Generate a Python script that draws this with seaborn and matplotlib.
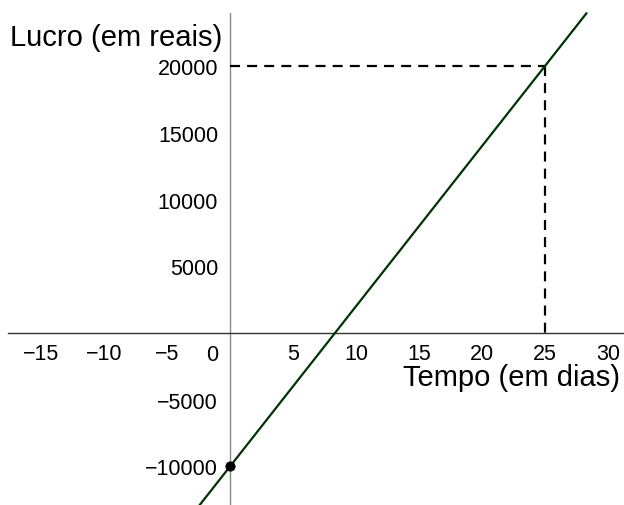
import matplotlib
matplotlib.use("Agg")
import matplotlib.pyplot as plt
import matplotlib.transforms as mtransforms
import seaborn as sns
import pandas as pd
from matplotlib.ticker import FixedLocator, FixedFormatter

# data
line_x = [-2.5, 0, 25, 28.3]
line_y = [-13000, -10000, 20000, 23960]
point_x = [0]
point_y = [-10000]
target_x = 25
target_y = 20000
x_ticks = [-15, -10, -5, 5, 10, 15, 20, 25, 30]
x_tick_labels = ["\u221215", "\u221210", "\u22125", "5", "10", "15", "20", "25", "30"]
y_ticks = [-10000, -5000, 5000, 10000, 15000, 20000]
y_tick_labels = ["\u221210000", "\u22125000", "5000", "10000", "15000", "20000"]
x_label = "Tempo (em dias)"
y_label = "Lucro (em reais)"

sns.set_theme(style="white")
plt.rcParams["font.family"] = ["Liberation Sans", "DejaVu Sans"]

fig = plt.figure(figsize=(6.24, 5.06), dpi=100)
ax = fig.add_axes([0, 0, 1, 1])
ax.set_facecolor("white")

xmin, xmax = -18.25, 31.27
ymin, ymax = -12884, 25019
ax.set_xlim(xmin, xmax)
ax.set_ylim(ymin, ymax)

df = pd.DataFrame({"x": line_x, "y": line_y})
sns.lineplot(data=df, x="x", y="y", ax=ax, color="#003300", linewidth=1.6, zorder=4, sort=False)

# dashed guides
dash = (0, (4.5, 3.2))
ax.plot([0, target_x], [target_y, target_y], color="black", linestyle=dash, linewidth=1.6, zorder=3)
ax.plot([target_x, target_x], [target_y, 0], color="black", linestyle=dash, linewidth=1.6, zorder=3)

sns.scatterplot(x=point_x, y=point_y, ax=ax, color="black", s=45, zorder=5, edgecolor="black")

# axes through origin
for s in ["top", "right"]:
    ax.spines[s].set_visible(False)
ax.spines["left"].set_position(("data", 0))
ax.spines["bottom"].set_position(("data", 0))
ax.spines["left"].set_bounds(ymin, 23970)
ax.spines["bottom"].set_bounds(-17.6, xmax)
ax.spines["left"].set_color("#888888")
ax.spines["bottom"].set_color("#333333")
ax.spines["left"].set_linewidth(1.0)
ax.spines["bottom"].set_linewidth(1.0)
ax.spines["left"].set_zorder(2)
ax.spines["bottom"].set_zorder(2)

ax.xaxis.set_major_locator(FixedLocator(x_ticks))
ax.xaxis.set_major_formatter(FixedFormatter(x_tick_labels))
ax.yaxis.set_major_locator(FixedLocator(y_ticks))
ax.yaxis.set_major_formatter(FixedFormatter(y_tick_labels))
ax.tick_params(axis="x", direction="out", length=2.5, width=0.8, color="#333333",
               labelsize=15.5, pad=5, labelcolor="black")
ax.tick_params(axis="y", direction="out", length=2.5, width=0.8, color="#333333",
               labelsize=15.5, pad=6, labelcolor="black")
ax.set_xlabel("")
ax.set_ylabel("")

zero = ax.text(-1.45, 0, "0", fontsize=15.5, ha="center", va="top", color="black")
zero.set_transform(ax.transData + mtransforms.ScaledTranslation(0, -8 / 72, fig.dpi_scale_trans))

ax.text(10 / 624, 1 - 38 / 506, y_label, fontsize=21, ha="left", va="center",
        transform=ax.transAxes, color="black")
ax.text(620 / 624, 1 - 378 / 506, x_label, fontsize=21, ha="right", va="center",
        transform=ax.transAxes, color="black")

fig.savefig("out.png", dpi=100, facecolor="white")
